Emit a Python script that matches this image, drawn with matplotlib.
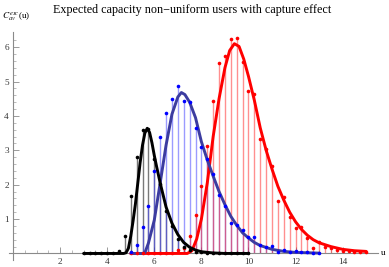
import matplotlib
matplotlib.use("Agg")
import matplotlib.pyplot as plt

plt.rcParams['font.family'] = ['Liberation Serif', 'DejaVu Serif']
plt.rcParams['mathtext.fontset'] = 'stix'

# ---- simulated points (u, value) ----
u_black = [3.0, 3.25, 3.5, 3.75, 4.0, 4.25, 4.5, 4.75, 5.0, 5.25, 5.5, 5.75, 6.0, 6.25,
           6.5, 6.75, 7.0, 7.25, 7.5, 7.75, 8.0, 8.25, 8.5, 8.75, 9.0, 9.25, 9.5, 9.75, 10.0]
v_black = [0, 0, 0, 0, 0, 0, 0.08, 0.51, 1.67, 2.81, 3.58, 3.62, 2.76, 2.02,
           1.23, 0.80, 0.42, 0.20, 0.10, 0.05, 0.03, 0.01, 0, 0, 0, 0, 0, 0, 0]

u_blue = [5.0, 5.25, 5.5, 5.75, 6.0, 6.25, 6.5, 6.75, 7.0, 7.25, 7.5, 7.75, 8.0, 8.25,
          8.5, 8.75, 9.0, 9.25, 9.5, 9.75, 10.0, 10.25, 10.5, 10.75, 11.0, 11.25, 11.5,
          11.75, 12.0, 12.25, 12.5, 12.75, 13.0]
v_blue = [0.05, 0.24, 0.78, 1.37, 2.41, 3.38, 4.09, 4.50, 4.87, 4.44, 4.41, 3.64, 3.10, 2.74,
          2.31, 1.69, 1.38, 0.90, 0.82, 0.68, 0.47, 0.47, 0.24, 0.20, 0.22, 0.05, 0.10,
          0.05, 0.07, 0.03, 0.03, 0.01, 0.01]

u_red = [5.0, 5.25, 5.5, 5.75, 6.0, 6.25, 6.5, 6.75, 7.0, 7.25, 7.5, 7.75, 8.0, 8.25,
         8.5, 8.75, 9.0, 9.25, 9.5, 9.75, 10.0, 10.25, 10.5, 10.75, 11.0, 11.25, 11.5,
         11.75, 12.0, 12.25, 12.5, 12.75, 13.0, 13.25, 13.5, 13.75, 14.0, 14.25, 14.5,
         14.75, 15.0]
v_red = [0, 0, 0, 0, 0, 0, 0, 0, 0.10, 0.15, 0.52, 1.12, 1.96, 3.12,
         4.42, 5.53, 5.74, 6.24, 6.26, 5.57, 4.71, 4.63, 3.32, 3.03, 2.54, 1.54, 1.63,
         1.07, 0.75, 0.78, 0.46, 0.17, 0.33, 0.20, 0.15, 0.10, 0.08, 0.06, 0.05,
         0.04, 0.03]

# ---- fitted curves ----
cu_black = [3.0, 4.7, 4.8, 4.9, 5.0, 5.1, 5.2, 5.3, 5.4, 5.5, 5.6, 5.7, 5.8, 5.9, 6.0,
            6.1, 6.25, 6.5, 6.75, 7.0, 7.25, 7.5, 7.75, 8.0, 8.5, 9.0, 10.0]
cv_black = [0, 0, 0.02, 0.15, 0.50, 0.95, 1.45, 2.05, 2.65, 3.15, 3.50, 3.64, 3.52, 3.22, 2.85,
            2.52, 2.05, 1.35, 0.88, 0.55, 0.32, 0.18, 0.10, 0.05, 0.015, 0, 0]

cu_blue = [5.0, 5.5, 5.6, 5.75, 6.0, 6.25, 6.5, 6.75, 7.0, 7.15, 7.3, 7.5, 7.75, 8.0,
           8.25, 8.5, 8.75, 9.0, 9.25, 9.5, 9.75, 10.0, 10.25, 10.5, 11.0, 11.5, 12.0, 13.0]
cv_blue = [0, 0, 0.02, 0.30, 0.97, 2.05, 3.15, 4.05, 4.55, 4.68, 4.62, 4.40, 3.95, 3.25,
           2.72, 2.25, 1.80, 1.42, 1.08, 0.82, 0.60, 0.45, 0.32, 0.23, 0.12, 0.06, 0.03, 0.01]

cu_red = [5.0, 7.4, 7.6, 7.8, 8.0, 8.25, 8.5, 8.75, 9.0, 9.2, 9.4, 9.6, 9.8, 10.0, 10.25,
          10.5, 10.75, 11.0, 11.25, 11.5, 11.75, 12.0, 12.25, 12.5, 12.75, 13.0, 13.5,
          14.0, 14.5, 15.0]
cv_red = [0, 0, 0.08, 0.42, 1.0, 2.05, 3.4, 4.5, 5.4, 5.9, 6.1, 6.02, 5.65, 5.15, 4.45,
          3.65, 3.0, 2.45, 1.95, 1.55, 1.2, 0.92, 0.7, 0.53, 0.4, 0.31, 0.2,
          0.12, 0.08, 0.06]

x_ticks = [2, 4, 6, 8, 10, 12, 14]
y_ticks = [1, 2, 3, 4, 5, 6]

W, H = 389, 267
fig = plt.figure(figsize=(W / 100, H / 100), dpi=100)
ax = fig.add_axes([9 / W, 7 / H, (378 - 9) / W, (260 - 32) / H])
ax.set_xlim(-0.17, 15.5)
ax.set_ylim(-0.19, 6.44)

# stems
ax.vlines(u_black, 0, v_black, colors='#202020', alpha=0.6, lw=1.0, zorder=2)
ax.vlines(u_blue, 0, v_blue, colors='#4a4aff', alpha=0.55, lw=1.0, zorder=2)
ax.vlines(u_red, 0, v_red, colors='#ff2020', alpha=0.5, lw=1.0, zorder=2)

# curves
ax.plot(cu_red, cv_red, color='#ff0000', lw=2.1, zorder=3, solid_capstyle='round')
ax.plot(cu_blue, cv_blue, color='#3c3ca0', lw=2.1, zorder=3, solid_capstyle='round')
ax.plot(cu_black, cv_black, color='black', lw=2.1, zorder=3, solid_capstyle='round')

# points
ax.plot(u_red, v_red, 'o', color='#ff0000', ms=2.6, mew=0, zorder=4)
ax.plot(u_blue, v_blue, 'o', color='#0000ff', ms=2.6, mew=0, zorder=4)
ax.plot(u_black, v_black, 'o', color='black', ms=2.6, mew=0, zorder=4)

# Mathematica-like axes through origin
for s in ['top', 'right']:
    ax.spines[s].set_visible(False)
ax.spines['left'].set_position(('data', 0))
ax.spines['bottom'].set_position(('data', 0))
for s in ['left', 'bottom']:
    ax.spines[s].set_color('#8a8a8a')
    ax.spines[s].set_linewidth(0.8)

ax.set_xticks(x_ticks)
ax.set_xticklabels([str(t) for t in x_ticks])
ax.set_yticks(y_ticks)
ax.set_yticklabels([str(t) for t in y_ticks])
ax.set_xticks([i * 0.5 for i in range(1, 31) if (i * 0.5) not in x_ticks], minor=True)
ax.set_yticks([i * 0.2 for i in range(1, 32) if i % 5 != 0], minor=True)
ax.tick_params(which='major', direction='in', length=4, width=0.6, color='#8a8a8a',
               labelsize=6.7, labelcolor='#333333', pad=3)
ax.tick_params(which='minor', direction='in', length=2.2, width=0.5, color='#a0a0a0')
ax.patch.set_alpha(0)

fig.text(192 / W, 1 - 10 / H, 'Expected capacity non\u2212uniform users with capture effect',
         ha='center', va='center', fontsize=8.7)
fig.text(2 / W, 1 - 17 / H, r'$C_{av}^{exc}$(u)', ha='left', va='center', fontsize=6.7)
fig.text(381 / W, 1 - 253 / H, 'u', ha='left', va='center', fontsize=6.7)

fig.savefig('out.png', dpi=100)
